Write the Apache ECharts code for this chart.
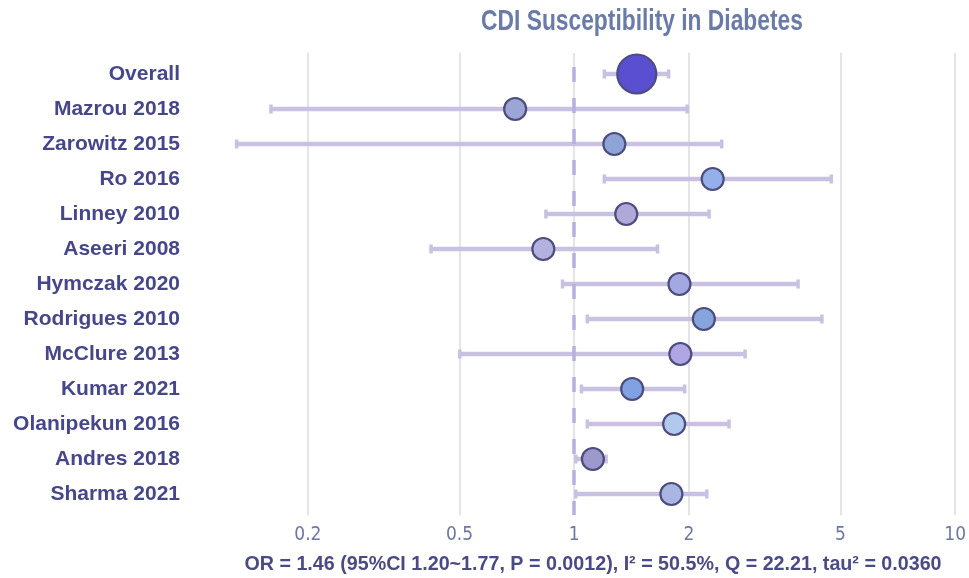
<!DOCTYPE html>
<html>
<head>
<meta charset="utf-8">
<script src="https://cdn.jsdelivr.net/npm/echarts@6/dist/echarts.min.js"></script>
<style>
  html, body { margin: 0; padding: 0; background: #ffffff; }
  #chart { width: 969px; height: 578px; }
</style>
</head>
<body>
<div id="chart"></div>
<script>
// Study rows, top to bottom
const studies = ['Overall', 'Mazrou 2018', 'Zarowitz 2015', 'Ro 2016', 'Linney 2010', 'Aseeri 2008',
  'Hymczak 2020', 'Rodrigues 2010', 'McClure 2013', 'Kumar 2021', 'Olanipekun 2016', 'Andres 2018', 'Sharma 2021'];
// Odds ratios and 95% confidence limits
const oddsRatio = [1.46, 0.70, 1.275, 2.31, 1.37, 0.83, 1.89, 2.19, 1.90, 1.42, 1.83, 1.12, 1.80];
const ciLower   = [1.20, 0.16, 0.130, 1.20, 0.843, 0.421, 0.932, 1.083, 0.501, 1.045, 1.083, 1.01, 1.01];
const ciUpper   = [1.77, 1.98, 2.44, 4.73, 2.26, 1.655, 3.87, 4.47, 2.81, 1.95, 2.55, 1.213, 2.23];
// Marker fills
const pointColors = ['#5a4fd0', '#9ba6d6', '#8fa4d6', '#93b0ea', '#b0a9d8', '#b4b1de', '#a4a8e2',
  '#86a5dd', '#b1a6e4', '#80a1e2', '#b2c9ee', '#9e99cc', '#aab6e2'];
// Axis tick labels
const tickValues = [0.2, 0.5, 1, 2, 5, 10];
const titleText = 'CDI Susceptibility in Diabetes';
const summaryText = 'OR = 1.46 (95%CI 1.20~1.77, P = 0.0012), I² = 50.5%, Q = 22.21, tau² = 0.0360';

const lg = v => Math.log10(v);
const chart = echarts.init(document.getElementById('chart'), null, { renderer: 'canvas' });

const barData = studies.map((s, i) => [lg(ciLower[i]), lg(ciUpper[i]), i]);
const pointData = studies.map((s, i) => ({
  value: [lg(oddsRatio[i]), i],
  symbolSize: i === 0 ? 39 : 22,
  itemStyle: { color: pointColors[i] }
}));

const option = {
  backgroundColor: '#ffffff',
  animation: false,
  graphic: [
    {
      // condensed bold heading
      type: 'text', x: 642, y: 22, scaleX: 0.76, silent: true,
      style: {
        text: titleText, textAlign: 'center', textVerticalAlign: 'middle',
        font: 'bold 30px "Liberation Sans"', fill: '#6a7ba8'
      }
    },
    {
      type: 'text', x: 593, y: 565, silent: true,
      style: {
        text: summaryText, textAlign: 'center', textVerticalAlign: 'middle',
        font: 'bold 19.7px "Liberation Sans"', fill: '#4a4a84'
      }
    }
  ],
  grid: { left: 229, right: 12, top: 53, bottom: 63 },
  xAxis: {
    type: 'value',
    min: -0.906, max: 1,
    axisLine: { show: false },
    axisTick: { show: false, customValues: tickValues.map(lg) },
    splitLine: { show: true, lineStyle: { color: '#e4e4ea', width: 2 } },
    axisLabel: {
      customValues: tickValues.map(lg),
      formatter: v => String(+Math.pow(10, v).toPrecision(3)),
      color: '#6b78a3', fontSize: 19,
      fontFamily: '"DejaVu Sans Condensed", "Liberation Sans"',
      margin: 11
    }
  },
  yAxis: {
    type: 'value', inverse: true, min: -0.6, max: 12.6,
    axisLine: { show: false }, axisTick: { show: false }, splitLine: { show: false },
    axisLabel: {
      customValues: studies.map((s, i) => i),
      formatter: v => studies[Math.round(v)],
      color: '#46468a', fontSize: 21, fontWeight: 'bold', fontFamily: 'Liberation Sans', margin: 49
    }
  },
  series: [
    {
      type: 'custom',
      data: barData,
      z: 2,
      renderItem: (params, api) => {
        const p0 = api.coord([api.value(0), api.value(2)]);
        const p1 = api.coord([api.value(1), api.value(2)]);
        const style = { stroke: '#c8c1e1', lineWidth: 4.5 };
        const capStyle = { stroke: '#c8c1e1', lineWidth: 3.5 };
        return {
          type: 'group',
          children: [
            { type: 'line', shape: { x1: p0[0], y1: p0[1], x2: p1[0], y2: p1[1] }, style },
            { type: 'line', shape: { x1: p0[0], y1: p0[1] - 4.5, x2: p0[0], y2: p0[1] + 4.5 }, style: capStyle },
            { type: 'line', shape: { x1: p1[0], y1: p1[1] - 4.5, x2: p1[0], y2: p1[1] + 4.5 }, style: capStyle }
          ]
        };
      },
      markLine: {
        silent: true, symbol: 'none', label: { show: false },
        lineStyle: { color: '#b8aee0', width: 3.5, type: [15, 16], dashOffset: 17 },
        data: [{ xAxis: 0 }]
      }
    },
    {
      type: 'scatter',
      data: pointData,
      z: 3,
      itemStyle: { opacity: 1, borderColor: '#4c4c7e', borderWidth: 2.2 }
    }
  ]
};
chart.setOption(option);
</script>
</body>
</html>
